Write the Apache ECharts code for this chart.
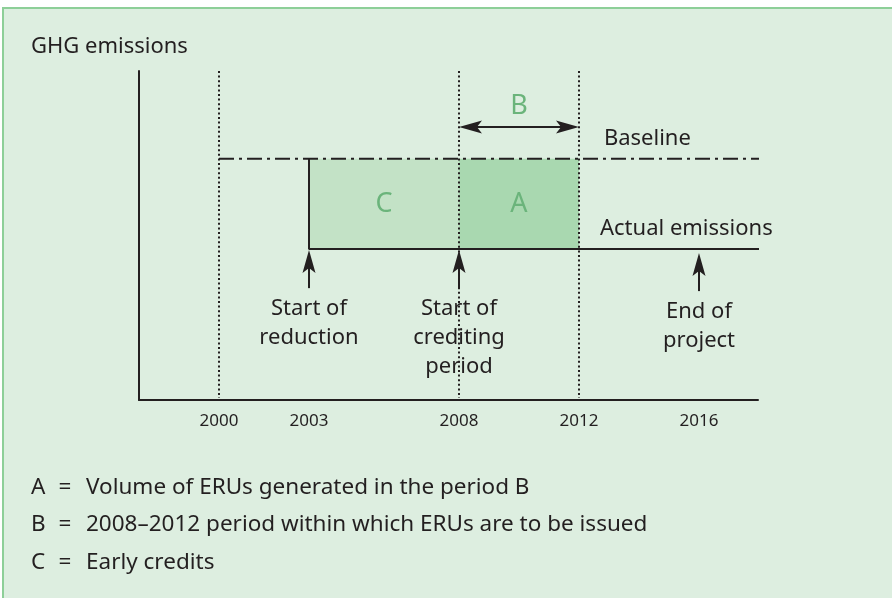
<!DOCTYPE html>
<html><head><meta charset="utf-8">
<script src="https://cdn.jsdelivr.net/npm/echarts@6/dist/echarts.min.js"></script>
<style>
html,body{margin:0;padding:0;background:#fff;}
#bg{position:absolute;left:2px;top:7px;right:0;bottom:0;background:#ddeee0;border-top:2px solid #8dcf98;border-left:2px solid #8dcf98;}
#c{position:absolute;left:0;top:0;width:892px;height:598px;}
</style>
</head><body><div id="bg"></div><div id="c"></div>
<script>
// ---- data ----
const yearTicks = [2000, 2003, 2008, 2012, 2016];
const dottedYears = [2000, 2008, 2012];
const baselineYears = [2000, 2018];
const baselineLevel = 73.3;
const actualYears = [2003, 2018];
const actualLevel = 45.9;
const regionNames = ['C', 'A'];
const regionFrom = [2003, 2008];
const regionTo = [2008, 2012];
const upArrowYears = [2003, 2008, 2016];
const upArrowFrom = [34.0, 34.0, 33.1];
const upArrowTo = [45.6, 45.6, 44.7];
const eventLabels = ['Start of\nreduction', 'Start of\ncrediting\nperiod', 'End of\nproject'];
const periodB = [2008, 2012];
const periodBLevel = 83.0;
const periodBName = 'B';
const lineLabelTexts = ['Baseline', 'Actual emissions'];
const lineLabelYears = [2012.83, 2012.7];
const lineLabelLevels = [baselineLevel, actualLevel];
const footLetters = ['A', 'B', 'C'];
const footTexts = ['Volume of ERUs generated in the period B',
                   '2008\u20132012 period within which ERUs are to be issued',
                   'Early credits'];
const yTitle = 'GHG emissions';

// ---- styles ----
const ink = '#231f20';
const green = '#6bb47b';
const regionColors = ['#c3e2c6', '#a9d8b0'];
const FONT = '"Noto Sans", "Open Sans", sans-serif';

const chart = echarts.init(document.getElementById('c'), null, {renderer: 'canvas'});

function arrowHead(tip, dir, len, w) {
  const [dx, dy] = dir; const px = -dy, py = dx;
  const bx = tip[0] - dx * len, by = tip[1] - dy * len;
  const nx = tip[0] - dx * len * 0.78, ny = tip[1] - dy * len * 0.78;
  return [[tip[0], tip[1]], [bx + px * w / 2, by + py * w / 2], [nx, ny], [bx - px * w / 2, by - py * w / 2]];
}

const graphics = [{
  type: 'text', style: {x: 31, y: 47, text: yTitle, font: '22px ' + FONT, fill: ink, verticalAlign: 'middle'}
}];
const footY = [488, 525, 563];
footLetters.forEach((l, i) => {
  graphics.push({type: 'text', style: {x: 31, y: footY[i], text: l, font: '22.5px ' + FONT, fill: ink, verticalAlign: 'middle'}});
  graphics.push({type: 'text', style: {x: 65, y: footY[i], text: '=', font: '22.5px ' + FONT, fill: ink, verticalAlign: 'middle', align: 'center'}});
  graphics.push({type: 'text', style: {x: 86, y: footY[i], text: footTexts[i], font: '22.5px ' + FONT, fill: ink, verticalAlign: 'middle'}});
});

const option = {
  animation: false,
  grid: {left: 139, top: 71, width: 619, height: 329, containLabel: false, outerBoundsMode: 'none'},
  xAxis: {
    type: 'value', min: 1997.3333, max: 2017.9667,
    axisLine: {show: true, onZero: false, lineStyle: {color: ink, width: 2}},
    axisTick: {show: false}, splitLine: {show: false},
    axisLabel: {customValues: yearTicks, formatter: v => String(v), color: ink, fontSize: 17, fontFamily: FONT, margin: 13}
  },
  yAxis: {
    type: 'value', min: 0, max: 100,
    axisLine: {show: true, onZero: false, lineStyle: {color: ink, width: 2}},
    axisTick: {show: false}, splitLine: {show: false}, axisLabel: {show: false}
  },
  graphic: graphics,
  series: [
    { // shaded regions
      type: 'custom', clip: false,
      data: regionNames.map((n, i) => [regionFrom[i], regionTo[i], actualLevel, baselineLevel, i]),
      renderItem(params, api) {
        const a = api.coord([api.value(0), api.value(3)]);
        const b = api.coord([api.value(1), api.value(2)]);
        const i = api.value(4);
        return {type: 'group', children: [
          {type: 'rect', shape: {x: a[0], y: a[1], width: b[0] - a[0], height: b[1] - a[1]}, style: {fill: regionColors[i]}},
          {type: 'text', style: {x: (a[0] + b[0]) / 2, y: (a[1] + b[1]) / 2, text: regionNames[i], font: '27px ' + FONT, fill: green, align: 'center', verticalAlign: 'middle'}}
        ]};
      }
    },
    { // event labels + up arrows
      type: 'custom', clip: false,
      data: upArrowYears.map((y, i) => [y, upArrowFrom[i], upArrowTo[i], i]),
      renderItem(params, api) {
        const p0 = api.coord([api.value(0), api.value(1)]);
        const p1 = api.coord([api.value(0), api.value(2)]);
        const i = api.value(3);
        const len = 23, w = 13;
        return {type: 'group', children: [
          {type: 'line', shape: {x1: p0[0], y1: p0[1], x2: p1[0], y2: p1[1] + len * 0.7}, style: {stroke: ink, lineWidth: 2}},
          {type: 'polygon', shape: {points: arrowHead(p1, [0, -1], len, w)}, style: {fill: ink}},
          {type: 'text', style: {x: p0[0], y: p0[1] + 6, text: eventLabels[i], font: '22px ' + FONT, lineHeight: 29, fill: ink, align: 'center', verticalAlign: 'top'}}
        ]};
      }
    },
    { // baseline
      type: 'line', symbol: 'none', clip: false, silent: true,
      data: baselineYears.map(y => [y, baselineLevel]),
      lineStyle: {color: ink, width: 2, type: [15, 5, 3, 5]}
    },
    { // actual emissions (with step down at start of reduction)
      type: 'line', symbol: 'none', clip: false, silent: true,
      data: [[actualYears[0], baselineLevel], [actualYears[0], actualLevel], [actualYears[1], actualLevel]],
      lineStyle: {color: ink, width: 2}
    },
    { // line labels
      type: 'custom', clip: false,
      data: lineLabelTexts.map((t, i) => [lineLabelYears[i], lineLabelLevels[i], i]),
      renderItem(params, api) {
        const p = api.coord([api.value(0), api.value(1)]);
        return {type: 'text', style: {x: p[0], y: p[1] - 20, text: lineLabelTexts[api.value(2)], font: '22px ' + FONT, fill: ink, verticalAlign: 'middle'}};
      }
    },
    { // period B double arrow
      type: 'custom', clip: false,
      data: [[periodB[0], periodB[1], periodBLevel]],
      renderItem(params, api) {
        const a = api.coord([api.value(0), api.value(2)]);
        const b = api.coord([api.value(1), api.value(2)]);
        const len = 23, w = 13;
        return {type: 'group', children: [
          {type: 'line', shape: {x1: a[0] + len * 0.7, y1: a[1], x2: b[0] - len * 0.7, y2: b[1]}, style: {stroke: ink, lineWidth: 2}},
          {type: 'polygon', shape: {points: arrowHead(a, [-1, 0], len, w)}, style: {fill: ink}},
          {type: 'polygon', shape: {points: arrowHead(b, [1, 0], len, w)}, style: {fill: ink}},
          {type: 'text', style: {x: (a[0] + b[0]) / 2, y: a[1] - 21, text: periodBName, font: '27px ' + FONT, fill: green, align: 'center', verticalAlign: 'middle'}}
        ]};
      }
    },
    { // dotted verticals
      type: 'custom', clip: false,
      data: dottedYears.map(y => [y, 0, 100]),
      renderItem(params, api) {
        const a = api.coord([api.value(0), api.value(2)]);
        const b = api.coord([api.value(0), api.value(1)]);
        return {type: 'line', shape: {x1: a[0], y1: a[1], x2: b[0], y2: b[1] - 2}, style: {stroke: ink, lineWidth: 2, lineDash: [2, 2.6]}};
      }
    }
  ]
};
chart.setOption(option);
</script>
</body></html>
